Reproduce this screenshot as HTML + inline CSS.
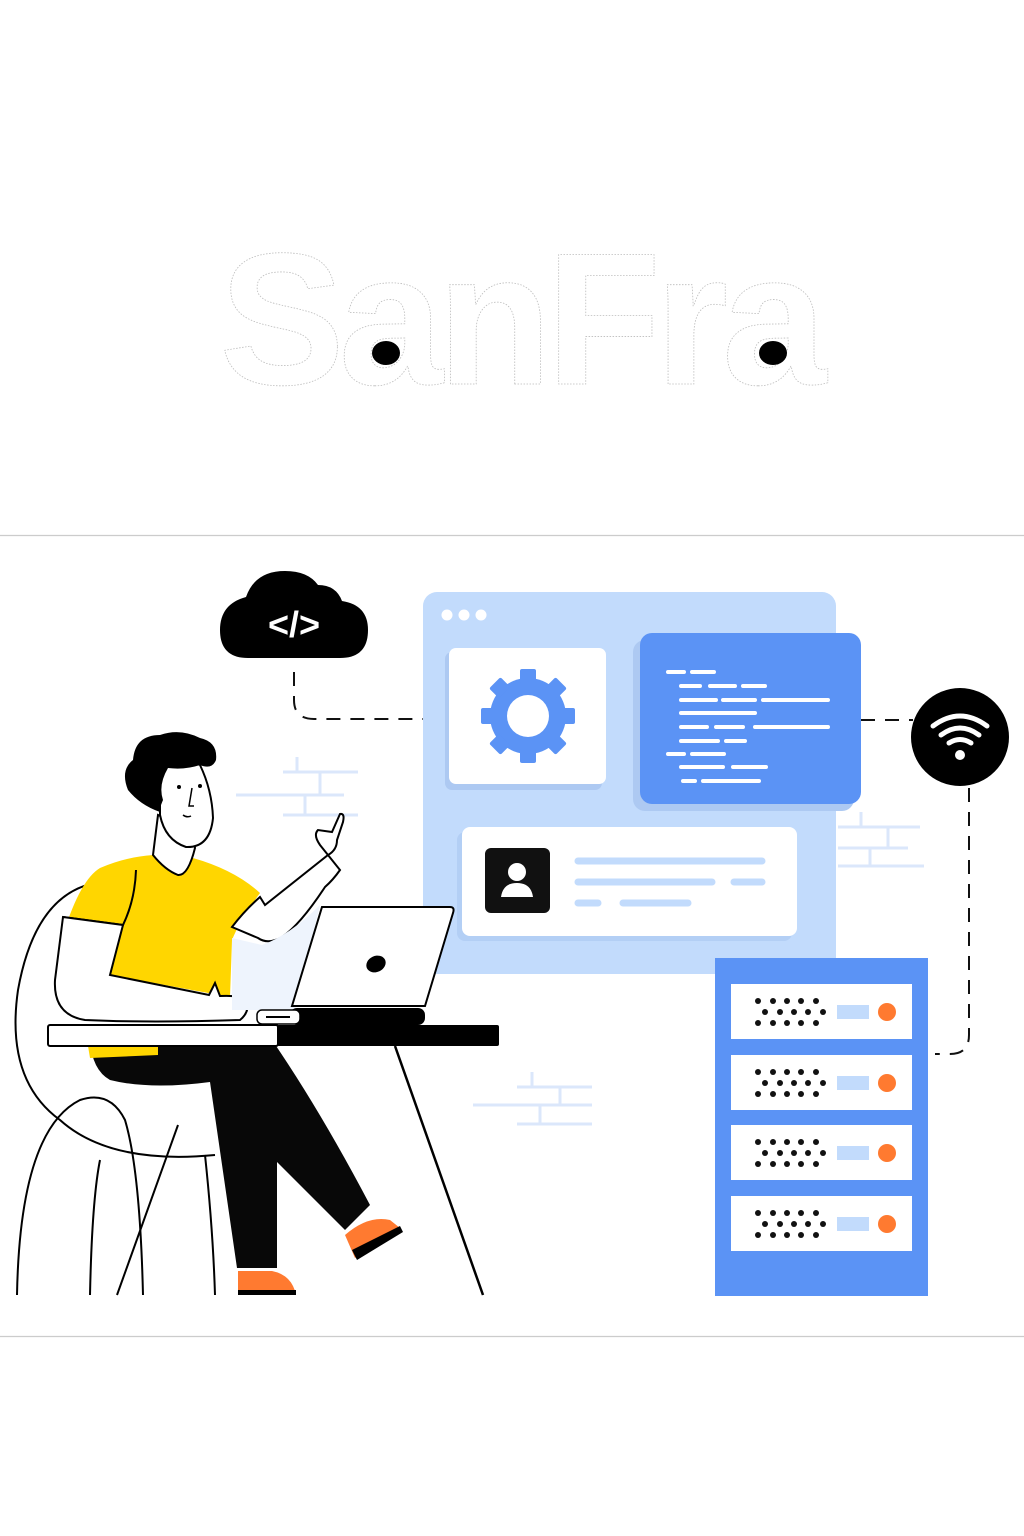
<!DOCTYPE html>
<html><head><meta charset="utf-8"><style>
html,body{margin:0;padding:0;background:#fff;width:1024px;height:1536px;overflow:hidden}
svg{display:block}
</style></head><body>
<svg width="1024" height="1536" viewBox="0 0 1024 1536" xmlns="http://www.w3.org/2000/svg">
<defs>
<g id="unit">
 <rect x="731" y="0" width="181" height="55" fill="#fff"/>
 <g fill="#111">
  <circle cx="758" cy="17" r="3"/><circle cx="773" cy="17" r="3"/><circle cx="787" cy="17" r="3"/><circle cx="801" cy="17" r="3"/><circle cx="816" cy="17" r="3"/>
  <circle cx="765" cy="28" r="3"/><circle cx="780" cy="28" r="3"/><circle cx="794" cy="28" r="3"/><circle cx="808" cy="28" r="3"/><circle cx="823" cy="28" r="3"/>
  <circle cx="758" cy="39" r="3"/><circle cx="773" cy="39" r="3"/><circle cx="787" cy="39" r="3"/><circle cx="801" cy="39" r="3"/><circle cx="816" cy="39" r="3"/>
 </g>
 <rect x="837" y="21" width="32" height="14" fill="#c2dbfc"/>
 <circle cx="887" cy="28" r="9" fill="#ff7a30"/>
</g>
</defs>

<!-- title -->
<text x="520" y="384" text-anchor="middle" font-family="Liberation Sans, sans-serif" font-weight="bold" font-size="188" fill="#fff" stroke="#bbb" stroke-width="0.8" stroke-dasharray="1.5 1.5" letter-spacing="-6">SanFra</text>
<ellipse cx="386" cy="353" rx="14" ry="12" fill="#000"/>
<ellipse cx="773" cy="353" rx="14" ry="12" fill="#000"/>

<line x1="0" y1="535.5" x2="1024" y2="535.5" stroke="#ccc" stroke-width="1.2"/>
<line x1="0" y1="1336.5" x2="1024" y2="1336.5" stroke="#ccc" stroke-width="1.2"/>

<!-- bricks -->
<g stroke="#dbe7fb" stroke-width="3" fill="none">
 <path d="M236 795H344M283 772H358M283 815H358M297 757V772M320 772V795M305 795V815"/>
 <path d="M838 827H920M838 848H908M838 866H924M861 812V827M888 827V848M870 848V866"/>
 <path d="M473 1105H592M517 1087H592M517 1124H592M532 1072V1087M560 1087V1105M540 1105V1124"/>
</g>

<!-- dashed connectors -->
<g stroke="#111" stroke-width="2" fill="none" stroke-dasharray="14 10">
 <path d="M294 672V700Q294 719 314 719H423"/>
 <path d="M861 720H913"/>
 <path d="M969 788V1035Q969 1054 950 1054H935"/>
</g>

<!-- main panel -->
<rect x="423" y="592" width="413" height="382" rx="14" fill="#c2dbfc"/>
<circle cx="447" cy="615" r="5.5" fill="#fff"/><circle cx="464" cy="615" r="5.5" fill="#fff"/><circle cx="481" cy="615" r="5.5" fill="#fff"/>
<rect x="445" y="652" width="157" height="138" rx="7" fill="#adc9f2"/>
<rect x="449" y="648" width="157" height="136" rx="7" fill="#fff"/>
<g transform="translate(528,716)" fill="#5b93f5">
 <circle r="38"/>
 <g>
  <rect x="-8" y="-47" width="16" height="14" rx="2"/>
  <rect x="-8" y="-47" width="16" height="14" rx="2" transform="rotate(45)"/>
  <rect x="-8" y="-47" width="16" height="14" rx="2" transform="rotate(90)"/>
  <rect x="-8" y="-47" width="16" height="14" rx="2" transform="rotate(135)"/>
  <rect x="-8" y="-47" width="16" height="14" rx="2" transform="rotate(180)"/>
  <rect x="-8" y="-47" width="16" height="14" rx="2" transform="rotate(225)"/>
  <rect x="-8" y="-47" width="16" height="14" rx="2" transform="rotate(270)"/>
  <rect x="-8" y="-47" width="16" height="14" rx="2" transform="rotate(315)"/>
 </g>
 <circle r="21" fill="#fff"/>
</g>
<rect x="633" y="640" width="221" height="171" rx="12" fill="#adc9f2"/>
<rect x="640" y="633" width="221" height="171" rx="12" fill="#5b93f5"/>
<g stroke="#fff" stroke-width="4" stroke-linecap="round">
 <path d="M668 672H684M692 672H714"/>
 <path d="M681 686H700M710 686H735M743 686H765"/>
 <path d="M681 700H716M723 700H755M763 700H828"/>
 <path d="M681 713H755"/>
 <path d="M681 727H707M716 727H743M755 727H828"/>
 <path d="M681 741H718M726 741H745"/>
 <path d="M668 754H684M692 754H724"/>
 <path d="M681 767H723M733 767H766"/>
 <path d="M683 781H695M703 781H759"/>
</g>
<rect x="457" y="832" width="335" height="109" rx="8" fill="#b3cff5"/>
<rect x="462" y="827" width="335" height="109" rx="8" fill="#fff"/>
<rect x="485" y="848" width="65" height="65" rx="6" fill="#111"/>
<circle cx="517" cy="872" r="9" fill="#fff"/>
<path d="M501 897Q503 883 517 883Q531 883 533 897Z" fill="#fff"/>
<g stroke="#c2dbfc" stroke-width="7" stroke-linecap="round">
 <path d="M578 861H762M578 882H712M734 882H762M578 903H598M623 903H688"/>
</g>

<!-- cloud -->
<path d="M248 658H340Q368 658 368 630Q368 605 342 601Q336 585 318 585Q308 571 285 571Q255 571 246 597Q220 604 220 630Q220 658 248 658Z" fill="#000"/>
<text x="294" y="637" text-anchor="middle" font-family="Liberation Sans, sans-serif" font-weight="bold" font-size="36" fill="#fff">&lt;/&gt;</text>

<!-- wifi -->
<circle cx="960" cy="737" r="49" fill="#000"/>
<g stroke="#fff" stroke-width="5" fill="none" stroke-linecap="round">
 <path d="M933 726Q960 706 987 726"/>
 <path d="M941 735Q960 721 979 735"/>
 <path d="M949 743Q960 736 971 743"/>
</g>
<circle cx="960" cy="755" r="5" fill="#fff"/>

<!-- server -->
<rect x="715" y="958" width="213" height="338" fill="#5b93f5"/>
<use href="#unit" y="984"/>
<use href="#unit" y="1055"/>
<use href="#unit" y="1125"/>
<use href="#unit" y="1196"/>

<!-- chair -->
<g stroke="#000" stroke-width="2" fill="none">
 <path d="M95 883Q35 895 18 990Q5 1080 60 1120Q110 1165 215 1155"/>
 <path d="M17 1295Q20 1130 80 1100Q110 1090 125 1120Q140 1170 143 1295"/>
 <path d="M90 1295Q92 1200 100 1160"/>
 <path d="M215 1295Q213 1230 205 1155"/>
 <path d="M117 1295L178 1125"/>
</g>
<!-- table leg -->
<line x1="395" y1="1046" x2="483" y2="1295" stroke="#000" stroke-width="2.5"/>

<!-- pants -->
<path d="M90 1040H272Q320 1110 370 1205L345 1230L277 1162V1268H237L210 1082Q150 1090 110 1080Q92 1070 90 1040Z" fill="#080808"/>
<path d="M345 1235Q368 1215 390 1220L400 1228L355 1258Z" fill="#ff7a30"/>
<path d="M352 1250L400 1226L403 1232L357 1260Z" fill="#000"/>
<path d="M238 1271H272Q292 1275 296 1295H238Z" fill="#ff7a30"/>
<rect x="238" y="1290" width="58" height="5" fill="#000"/>

<!-- shirt -->
<path d="M63 935Q80 880 100 868Q125 857 153 855L193 858Q235 870 260 893Q240 920 232 940L230 997L110 975Z" fill="#ffd600"/>
<path d="M88 1046H158V1055L90 1058Z" fill="#ffd600"/>
<path d="M63 917L123 925Q135 900 136 870" stroke="#000" stroke-width="2" fill="none"/>
<!-- neck & head -->
<path d="M153 855L158 815L193 830L195 848Q188 876 178 875Q165 870 153 855Z" fill="#fff" stroke="#000" stroke-width="2"/>
<path d="M160 770Q175 755 200 765Q212 790 213 818Q210 848 186 847Q165 840 160 815Z" fill="#fff" stroke="#000" stroke-width="2"/>
<path d="M133 760Q135 735 160 735Q180 728 200 738Q218 742 216 760Q212 770 200 765Q185 770 168 768Q158 785 163 800Q158 812 160 812Q140 805 128 790Q120 770 133 760Z" fill="#000"/>
<circle cx="179" cy="787" r="2" fill="#000"/><circle cx="200" cy="786" r="2" fill="#000"/>
<path d="M192 788L189 806H194M183 815Q187 818 191 816" stroke="#000" stroke-width="1.5" fill="none"/>
<!-- arms -->
<path d="M63 917L55 980Q53 1015 85 1020Q150 1023 240 1020Q250 1012 247 1000Q240 995 220 996L215 983L209 995L110 975L123 925Z" fill="#fff" stroke="#000" stroke-width="2"/>
<path d="M260 897L265 905L328 855Q337 850 337 840L343 822Q345 813 340 814L332 832L318 830Q313 835 320 845L340 870Q333 880 325 887Q300 925 282 937Q268 945 258 938L232 927Q245 910 260 897Z" fill="#fff" stroke="#000" stroke-width="2"/>
<path d="M232 938L262 945Q290 935 320 905L295 1010H232Z" fill="#eef4fd"/>

<!-- laptop -->
<path d="M322 907H450Q455 907 453 913L425 1006H292Z" fill="#fff" stroke="#000" stroke-width="2"/>
<ellipse cx="376" cy="964" rx="10" ry="8" transform="rotate(-25 376 964)" fill="#000"/>
<rect x="290" y="1008" width="135" height="17" rx="7" fill="#000"/>
<rect x="257" y="1010" width="43" height="14" rx="5" fill="#fff" stroke="#000" stroke-width="1.5"/>
<line x1="266" y1="1017" x2="290" y2="1017" stroke="#000" stroke-width="2"/>

<!-- table -->
<rect x="48" y="1025" width="230" height="21" rx="2" fill="#fff" stroke="#000" stroke-width="2"/>
<rect x="277" y="1025" width="222" height="21" rx="2" fill="#000"/>
</svg>
</body></html>
